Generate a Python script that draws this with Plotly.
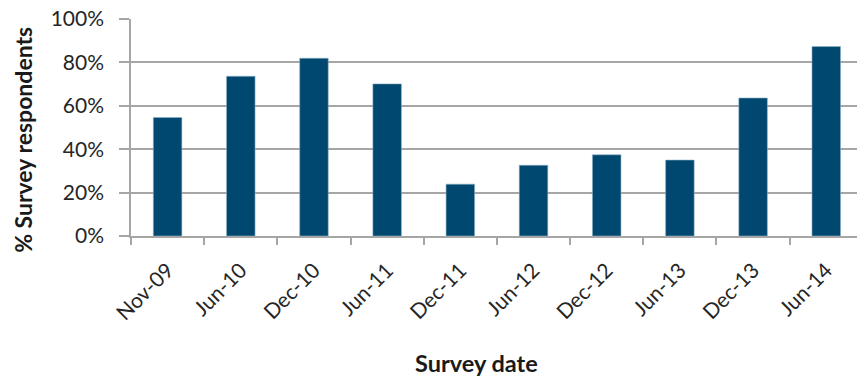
import plotly.graph_objects as go

# Survey share by date
survey_dates = ["Nov-09", "Jun-10", "Dec-10", "Jun-11", "Dec-11",
                "Jun-12", "Dec-12", "Jun-13", "Dec-13", "Jun-14"]
pct_respondents = [54.6, 73.6, 81.9, 70.1, 23.9, 32.6, 37.4, 35.0, 63.6, 87.3]
y_ticks = [0, 20, 40, 60, 80, 100]
y_tick_labels = ["0%", "20%", "40%", "60%", "80%", "100%"]

W, H = 857, 377
left, right, top, bottom = 131, 857, 19.4, 236.0

def px_x(px):
    return (px - left) / (right - left)

def px_y(py):
    return (bottom - py) / (bottom - top)

font_family = "Lato, 'Open Sans', sans-serif"
text_color = "#262626"
grid_color = "#a6a6a6"

fig = go.Figure(
    go.Bar(
        x=survey_dates,
        y=pct_respondents,
        marker=dict(color="#00486F", line=dict(color="#8fb0c4", width=0.6)),
        width=0.39,
        hoverinfo="x+y",
    )
)

fig.update_layout(
    width=W,
    height=H,
    margin=dict(l=left, r=W - right, t=top, b=H - bottom),
    paper_bgcolor="white",
    plot_bgcolor="white",
    showlegend=False,
    font=dict(family=font_family, size=21, color=text_color),
    xaxis=dict(
        type="category",
        range=[-0.5, 9.42],
        tickson="boundaries",
        ticks="outside",
        ticklen=7,
        tickwidth=1.5,
        tickcolor=grid_color,
        tickangle=-45,
        tickfont=dict(size=21, color=text_color),
        ticklabelstandoff=12,
        showline=True,
        linecolor=grid_color,
        linewidth=1.5,
        showgrid=False,
        zeroline=False,
        fixedrange=True,
    ),
    yaxis=dict(
        range=[0, 100],
        tickvals=y_ticks,
        ticktext=y_tick_labels,
        ticks="outside",
        ticklen=10,
        tickwidth=1.5,
        tickcolor=grid_color,
        tickfont=dict(size=21, color=text_color),
        ticklabelstandoff=11,
        showline=True,
        linecolor=grid_color,
        linewidth=1.5,
        showgrid=True,
        gridcolor=grid_color,
        gridwidth=1.5,
        zeroline=False,
        fixedrange=True,
    ),
    annotations=[
        dict(
            text="<b>% Survey respondents</b>",
            xref="paper", yref="paper",
            x=px_x(23), y=px_y(140),
            xanchor="center", yanchor="middle",
            textangle=-90,
            showarrow=False,
            font=dict(size=23, color="#1a1a1a", family=font_family),
        ),
        dict(
            text="<b>Survey date</b>",
            xref="paper", yref="paper",
            x=px_x(476), y=px_y(363),
            xanchor="center", yanchor="middle",
            showarrow=False,
            font=dict(size=23.5, color="#1a1a1a", family=font_family),
        ),
    ],
)

fig.write_html("out.html")
